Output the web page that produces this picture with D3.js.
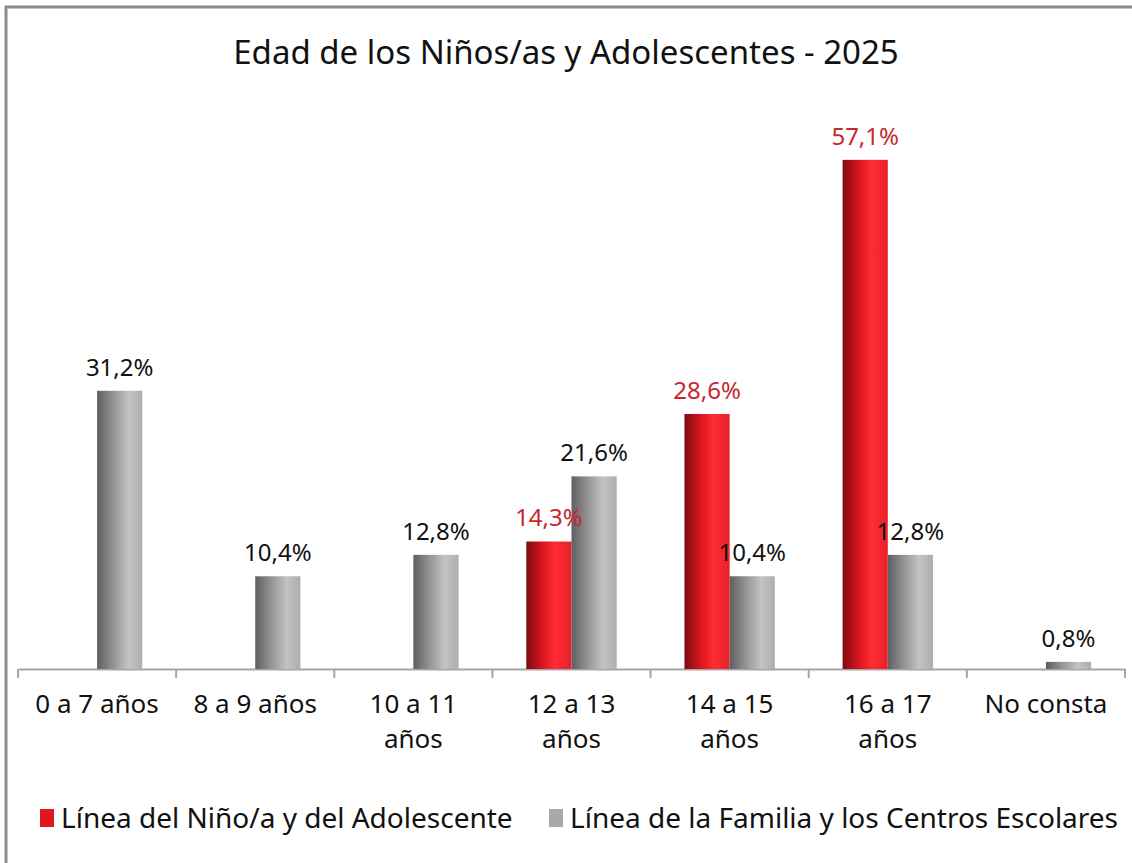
<!DOCTYPE html>
<html>
<head>
<meta charset="utf-8">
<script src="https://cdn.jsdelivr.net/npm/d3@7"></script>
<style>
  body { margin: 0; background: #fff; }
  svg text { font-family: 'Noto Sans', 'DejaVu Sans', sans-serif; }
</style>
</head>
<body>
<div id="chart"></div>
<script>
let categories = [
  ['0 a 7 años'], ['8 a 9 años'], ['10 a 11', 'años'], ['12 a 13', 'años'],
  ['14 a 15', 'años'], ['16 a 17', 'años'], ['No consta']
];
let series = ['Línea del Niño/a y del Adolescente', 'Línea de la Familia y los Centros Escolares'];
let ninoValues = [null, null, null, 14.3, 28.6, 57.1, null];
let familiaValues = [31.2, 10.4, 12.8, 21.6, 10.4, 12.8, 0.8];

let width = 1132;
let height = 863;
let margin = {top: 134, left: 18, right: 7, bottom: 194};

let svg = d3.select('#chart')
  .append('svg')
  .attr('width', width)
  .attr('height', height);

let defs = svg.append('defs');
let redGrad = defs.append('linearGradient').attr('id', 'redGrad');
redGrad.append('stop').attr('offset', '0%').attr('stop-color', '#7c0b10');
redGrad.append('stop').attr('offset', '35%').attr('stop-color', '#d9161e');
redGrad.append('stop').attr('offset', '65%').attr('stop-color', '#ff2c34');
redGrad.append('stop').attr('offset', '100%').attr('stop-color', '#e8202a');
let grayGrad = defs.append('linearGradient').attr('id', 'grayGrad');
grayGrad.append('stop').attr('offset', '0%').attr('stop-color', '#5f5f5f');
grayGrad.append('stop').attr('offset', '40%').attr('stop-color', '#9a9a9a');
grayGrad.append('stop').attr('offset', '70%').attr('stop-color', '#c3c3c3');
grayGrad.append('stop').attr('offset', '100%').attr('stop-color', '#adadad');

// outer frame (left and top edges visible)
svg.append('path')
  .attr('d', 'M6,' + height + ' V7 H' + width)
  .attr('fill', 'none')
  .attr('stroke', '#8c8c8c')
  .attr('stroke-width', 3);

svg.append('text')
  .attr('x', 566)
  .attr('y', 64)
  .attr('text-anchor', 'middle')
  .attr('font-size', 33)
  .attr('fill', '#111')
  .text('Edad de los Niños/as y Adolescentes - 2025');

let x0 = d3.scaleBand()
  .domain(d3.range(categories.length))
  .range([margin.left, width - margin.right]);

let x1 = d3.scaleBand()
  .domain([0, 1])
  .range([0, x0.bandwidth()])
  .paddingInner(0)
  .paddingOuter(0.75);

let y = d3.scaleLinear()
  .domain([0, 60])
  .range([height - margin.bottom, margin.top]);

let xAxis = d3.axisBottom(x0)
  .tickSize(0)
  .tickFormat('');

let gx = svg.append('g')
  .attr('transform', 'translate(0,' + y(0) + ')')
  .call(xAxis);
gx.select('.domain').attr('stroke', '#a6a6a6').attr('stroke-width', 2);

// tick marks between categories
let bounds = d3.range(categories.length + 1).map(i => margin.left + i * x0.step());
svg.append('g').selectAll('line')
  .data(bounds)
  .enter()
  .append('line')
  .attr('x1', d => d)
  .attr('x2', d => d)
  .attr('y1', y(0))
  .attr('y2', y(0) + 9)
  .attr('stroke', '#a6a6a6')
  .attr('stroke-width', 2);

// category labels
let catLabel = svg.append('g').selectAll('text')
  .data(categories)
  .enter()
  .append('text')
  .attr('text-anchor', 'middle')
  .attr('font-size', 26)
  .attr('fill', '#111')
  .attr('x', (d, i) => x0(i) + x0.bandwidth() / 2)
  .attr('y', y(0) + 44);
catLabel.selectAll('tspan')
  .data(d => d)
  .enter()
  .append('tspan')
  .attr('x', function() { return d3.select(this.parentNode).attr('x'); })
  .attr('dy', (d, i) => i === 0 ? 0 : 35)
  .text(d => d);

let data = [];
categories.forEach((c, i) => {
  if (ninoValues[i] != null) data.push({cat: i, s: 0, v: ninoValues[i]});
  if (familiaValues[i] != null) data.push({cat: i, s: 1, v: familiaValues[i]});
});

let fmt = v => v.toFixed(1).replace('.', ',') + '%';

svg.append('g').selectAll('rect')
  .data(data)
  .enter()
  .append('rect')
  .attr('x', d => x0(d.cat) + x1(d.s))
  .attr('width', x1.bandwidth())
  .attr('y', d => y(d.v))
  .attr('height', d => y(0) - y(d.v))
  .attr('fill', d => d.s === 0 ? 'url(#redGrad)' : 'url(#grayGrad)');

svg.append('g').selectAll('text')
  .data(data)
  .enter()
  .append('text')
  .attr('text-anchor', 'middle')
  .attr('font-size', 24)
  .attr('fill', d => d.s === 0 ? '#c6282e' : '#111')
  .attr('x', d => x0(d.cat) + x1(d.s) + x1.bandwidth() / 2)
  .attr('y', d => y(d.v) - 15)
  .text(d => fmt(d.v));

// legend
let legendX = [40, 549];
let legendColors = ['#e0171f', '#a9a9a9'];
let legend = svg.append('g').selectAll('g')
  .data(series)
  .enter()
  .append('g')
  .attr('transform', (d, i) => 'translate(' + legendX[i] + ',818)');
legend.append('rect')
  .attr('x', 0)
  .attr('y', -9)
  .attr('width', 14)
  .attr('height', 18)
  .attr('fill', (d, i) => legendColors[i]);
legend.append('text')
  .attr('x', 21)
  .attr('y', 10)
  .attr('font-size', 28)
  .attr('fill', '#111')
  .text(d => d);
</script>
</body>
</html>
